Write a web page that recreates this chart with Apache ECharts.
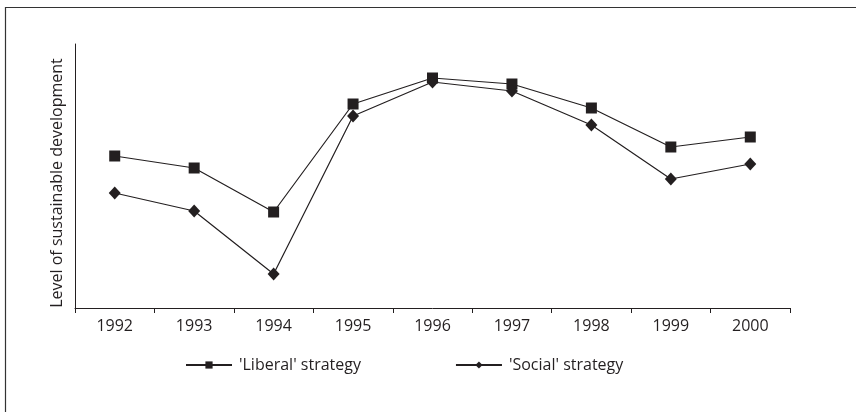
<!DOCTYPE html>
<html>
<head>
<meta charset="utf-8">
<script src="https://cdn.jsdelivr.net/npm/echarts@6/dist/echarts.min.js"></script>
<style>
  html, body { margin: 0; padding: 0; background: #fff; }
  #main { width: 856px; height: 412px; }
</style>
</head>
<body>
<div id="main"></div>
<script>
var years = ['1992', '1993', '1994', '1995', '1996', '1997', '1998', '1999', '2000'];
// levels (no scale given in the source, relative units)
var liberal = [152, 140, 96, 204, 230, 224, 200, 161, 171];
var social = [115, 97, 34, 192, 226, 217, 183, 129, 144];

var ink = '#231f20';
var font = 'Open Sans';

var myChart = echarts.init(document.getElementById('main'));

var option = {
	animation: false,
	backgroundColor: '#fff',
	graphic: [{
		type: 'rect',
		shape: { x: 5.5, y: 7.5, width: 900, height: 500 },
		style: { fill: 'none', stroke: '#333', lineWidth: 1.2 }
	}],
	grid: { left: 75, right: 66, top: 44, bottom: 104 },
	legend: {
		left: 180,
		top: 352,
		itemWidth: 46,
		itemHeight: 9,
		itemGap: 94,
		textStyle: { fontFamily: font, fontSize: 16, color: ink, padding: [0, 0, 0, 2] },
		data: ["'Liberal' strategy", "'Social' strategy"]
	},
	xAxis: {
		type: 'category',
		data: years,
		boundaryGap: true,
		axisLine: { lineStyle: { color: ink, width: 1 } },
		axisTick: { show: true, length: 5, lineStyle: { color: ink } },
		axisLabel: { color: ink, fontFamily: font, fontSize: 16, margin: 10 }
	},
	yAxis: {
		type: 'value',
		min: 0,
		max: 264,
		name: 'Level of sustainable development',
		nameLocation: 'middle',
		nameRotate: 90,
		nameGap: 10,
		nameTextStyle: { color: ink, fontFamily: font, fontSize: 16, padding: [0, 14, 0, 0] },
		axisLine: { show: true, lineStyle: { color: ink, width: 1 } },
		axisTick: { show: false },
		axisLabel: { show: false },
		splitLine: { show: false }
	},
	series: [{
		name: "'Liberal' strategy",
		type: 'line',
		data: liberal,
		symbol: 'rect',
		symbolSize: 11,
		lineStyle: { color: ink, width: 1.2 },
		itemStyle: { color: ink }
	}, {
		name: "'Social' strategy",
		type: 'line',
		data: social,
		symbol: 'diamond',
		symbolSize: [12, 13],
		lineStyle: { color: ink, width: 1.2 },
		itemStyle: { color: ink }
	}]
};
myChart.setOption(option);
</script>
</body>
</html>
